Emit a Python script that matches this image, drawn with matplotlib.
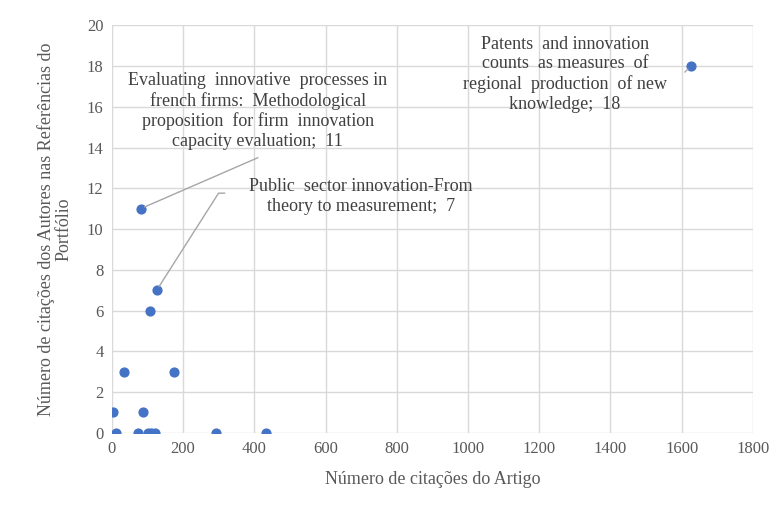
import matplotlib.pyplot as plt

plt.rcParams['font.family'] = ['Liberation Serif', 'DejaVu Serif']

# citações do artigo (x) e citações nas referências do portfólio (y)
citacoes_artigo = [3, 12, 34, 72, 88, 100, 110, 120, 108, 126, 174, 292, 432, 81, 1626]
citacoes_portfolio = [1, 0, 3, 0, 1, 0, 0, 0, 6, 7, 3, 0, 0, 11, 18]

# rótulos de dados: ponto, texto, posição do texto, fim da linha guia
rotulos = [
    ((81, 11), "Evaluating  innovative  processes in\nfrench firms:  Methodological\n"
               "proposition  for firm  innovation\ncapacity evaluation;  11",
     (410, 15.8), (410, 13.5)),
    ((126, 7), "Public  sector innovation-From\ntheory to measurement;  7",
     (700, 11.6), (317, 11.76)),
    ((1626, 18), "Patents  and innovation\ncounts  as measures  of\n"
                 "regional  production  of new\nknowledge;  18",
     (1272, 17.6), (1609, 17.7)),
]
conexoes = ['arc3', 'angle,angleA=180,angleB=57.5,rad=0', 'arc3']

fig = plt.figure(figsize=(7.77, 5.05), dpi=100)
ax = fig.add_axes([0.144, 0.143, 0.825, 0.807])

ax.scatter(citacoes_artigo, citacoes_portfolio, s=40, color='#4472C4', zorder=3)

for (pt, txt, pos, guia), con in zip(rotulos, conexoes):
    ax.text(pos[0], pos[1], txt, ha='center', va='center', fontsize=13,
            color='#404040', linespacing=1.2)
    ax.annotate('', xy=pt, xytext=guia,
                arrowprops=dict(arrowstyle='-', color='#A6A6A6', lw=1,
                                connectionstyle=con, shrinkA=0, shrinkB=3))

ax.set_xlim(0, 1800)
ax.set_ylim(0, 20)
ax.set_xticks(range(0, 1801, 200))
ax.set_yticks(range(0, 21, 2))
ax.grid(True, color='#D9D9D9', lw=1)
ax.set_axisbelow(True)
for s in ax.spines.values():
    s.set_visible(False)
ax.tick_params(length=0, labelsize=12, labelcolor='#595959', pad=6)

ax.set_xlabel('Número de citações do Artigo', fontsize=13, color='#595959', labelpad=10)
ax.set_ylabel('Número de citações dos Autores nas Referências do\nPortfólio',
              fontsize=13, color='#595959', labelpad=10, linespacing=1.1)

plt.savefig('out.png')
